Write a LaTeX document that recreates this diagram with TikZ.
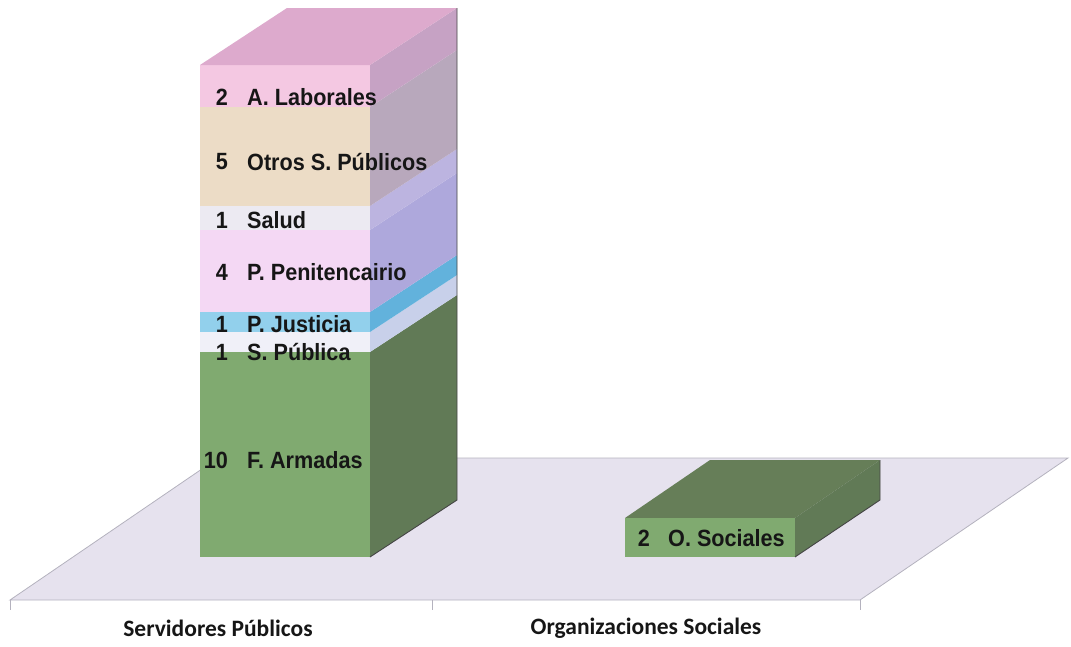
\documentclass[tikz,border=0pt]{standalone}
\usepackage{fontspec}
\setmainfont{Liberation Sans}
\newfontfamily\barfont[FakeStretch=0.92]{Liberation Sans}
\newfontfamily\axisfont{Carlito}
\usetikzlibrary{positioning}

\definecolor{floorcol}{HTML}{E6E2EE}
\definecolor{edgecol}{HTML}{B4B2BE}
\definecolor{inkcol}{HTML}{161616}
% front / side colours of the stacked segments
\definecolor{labF}{HTML}{F4C8E2}\definecolor{labS}{HTML}{C6A2C4}
\definecolor{labT}{HTML}{DDAACD}
\definecolor{otrF}{HTML}{ECDCC6}\definecolor{otrS}{HTML}{B8A8BC}
\definecolor{salF}{HTML}{ECEAF2}\definecolor{salS}{HTML}{BCB4E0}
\definecolor{penF}{HTML}{F4D8F4}\definecolor{penS}{HTML}{AEA8DC}
\definecolor{jusF}{HTML}{92D0EC}\definecolor{jusS}{HTML}{62B2DC}
\definecolor{spuF}{HTML}{F0F0F8}\definecolor{spuS}{HTML}{C8D0EA}
\definecolor{armF}{HTML}{80AA70}\definecolor{armS}{HTML}{617A56}
\definecolor{armT}{HTML}{667E58}

\tikzset{
  val/.style={inner sep=0pt, anchor=east, text=inkcol,
    font=\barfont\fontsize{23.5}{26}\selectfont\bfseries},
  cat/.style={inner sep=0pt, text=inkcol,
    font=\barfont\fontsize{23.5}{26}\selectfont\bfseries},
  axislabel/.style={inner sep=0pt, text=inkcol,
    font=\axisfont\fontsize{23.5}{26}\selectfont\bfseries},
  tick/.style={edgecol, line width=0.9pt}
}

\begin{document}
\begin{tikzpicture}[x=1pt,y=-1pt]
  \useasboundingbox (0,0) rectangle (1071,646);

  % floor
  \fill[floorcol] (10,600) -- (860,600) -- (1068,458) -- (218,458) -- cycle;
  \draw[edgecol, line width=0.8pt] (10,600) -- (860,600) -- (1068,458) -- (218,458) -- cycle;
  \foreach \x in {10,432,860}
    \draw[tick] (\x,600) -- (\x,610);

  % tall stacked bar
  \foreach \ya/\yb/\cf/\cs in {352/557/armF/armS, 332/352/spuF/spuS,
      312/332/jusF/jusS, 230/312/penF/penS, 206/230/salF/salS,
      107/206/otrF/otrS, 65/107/labF/labS}{
    \fill[\cf] (200,\ya) rectangle (370,\yb);
    \fill[\cs] (370,\ya) -- ++(87,-57) -- ++(0,{\yb-\ya}) -- (370,\yb) -- cycle;
  }
  \fill[labT] (200,65) -- (287,8) -- (457,8) -- (370,65) -- cycle;
  \draw[inkcol!80, line width=0.9pt] (457,8) -- (457,500) -- (370,557);

  \foreach \y/\n/\t [count=\i] in {97/2/A. Laborales, 162/5/Otros S. Públicos,
      220/1/Salud, 272/4/P. Penitencairio, 324/1/P. Justicia,
      352/1/S. Pública, 460/10/F. Armadas}{
    \node[val] (v\i) at (228,\y) {\n};
    \node[cat, right=19pt of v\i] (c\i) {\t};
  }

  % small bar
  \fill[armT] (625,518) -- (710,460) -- (880,460) -- (795,518) -- cycle;
  \fill[armS] (795,518) -- (880,460) -- (880,500) -- (795,557) -- cycle;
  \fill[armF] (625,518) rectangle (795,557);
  \draw[inkcol!80, line width=0.9pt] (880,460) -- (880,500) -- (795,557);
  \node[val] (vOrg) at (650,538) {2};
  \node[cat, right=18pt of vOrg] (cOrg) {O. Sociales};

  % axis labels
  \node[axislabel] (serv) at (218,628) {Servidores Públicos};
  \node[axislabel] (orga) at (646,628) {Organizaciones Sociales};
\end{tikzpicture}
\end{document}
